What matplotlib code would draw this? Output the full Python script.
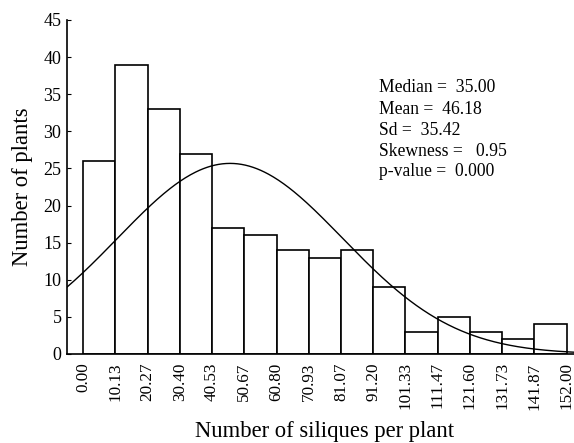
import numpy as np
import matplotlib
matplotlib.use("Agg")
import matplotlib.pyplot as plt

plt.rcParams['font.family'] = ['Liberation Serif', 'DejaVu Serif']

bin_edges = [0.00, 10.13, 20.27, 30.40, 40.53, 50.67, 60.80, 70.93, 81.07,
             91.20, 101.33, 111.47, 121.60, 131.73, 141.87, 152.00]
counts = [26, 39, 33, 27, 17, 16, 14, 13, 14, 9, 3, 5, 3, 2, 4]
median_v = 35.00
mean_v = 46.18
sd_v = 35.42
skew_v = 0.95
p_v = 0.000

fig = plt.figure(figsize=(5.74, 4.43), dpi=100)
ax = fig.add_axes([67/574, 89/443, (574-67)/574, 334/443])

edges = np.array(bin_edges)
widths = np.diff(edges)
ax.bar(edges[:-1], counts, width=widths, align='edge', facecolor='white',
       edgecolor='black', linewidth=1.2)

binw = (edges[-1] - edges[0]) / len(counts)
N = sum(counts)
xs = np.linspace(-5.2, 155, 400)
ys = N * binw / (sd_v * np.sqrt(2 * np.pi)) * np.exp(-0.5 * ((xs - mean_v) / sd_v) ** 2)
ax.plot(xs, ys, color='black', linewidth=1.0)

ax.set_xlim(-5.07, 154.3)
ax.set_ylim(0, 45)
ax.set_yticks(range(0, 46, 5))
ax.set_xticks(edges)
ax.set_xticklabels([f"{v:.2f}" for v in bin_edges], rotation=90, fontsize=12.3)
ax.tick_params(axis='x', length=0, pad=6)
ax.tick_params(axis='y', direction='in', length=3, labelsize=13, pad=4)
for s in ['top', 'right']:
    ax.spines[s].set_visible(False)
ax.spines['left'].set_linewidth(1.2)
ax.spines['bottom'].set_linewidth(1.2)

ax.set_ylabel("Number of plants", fontsize=16.3)
ax.yaxis.set_label_coords(-(67 - 23) / 507, 0.5)
ax.set_xlabel("Number of siliques per plant", fontsize=16.3)
ax.xaxis.set_label_coords((325 - 67) / 507, -(432 - 354) / 334)
ax.xaxis.label.set_va('center')
ax.yaxis.label.set_va('center')

lines = [f"Median =  {median_v:.2f}", f"Mean =  {mean_v:.2f}", f"Sd =  {sd_v:.2f}",
         f"Skewness =   {skew_v:.2f}", f"p-value =  {p_v:.3f}"]
ypix = [87, 109, 130, 151, 171]
for t, yp in zip(lines, ypix):
    fig.text(379/574, 1 - yp/443, t, fontsize=12.7, va='center', ha='left')

fig.savefig("out.png", dpi=100)
